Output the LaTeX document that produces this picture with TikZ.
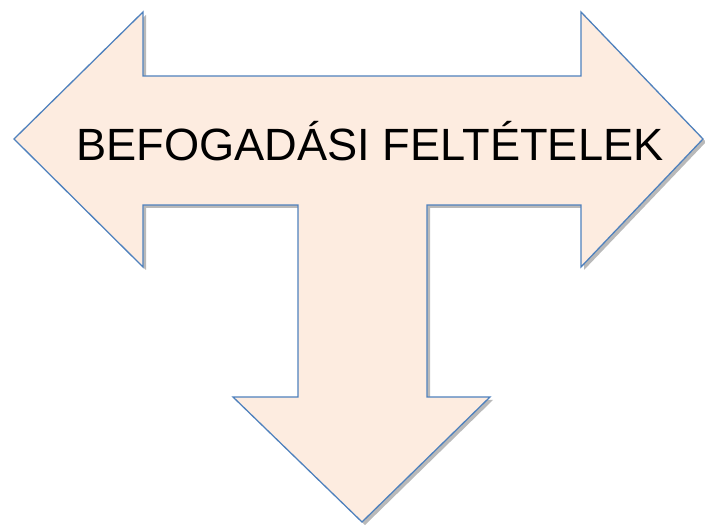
\documentclass[tikz,border=0pt]{standalone}
\usepackage{fontspec}
\setmainfont{Liberation Sans}
\usetikzlibrary{shadows}

\definecolor{peach}{RGB}{253,236,224}
\definecolor{edgeblue}{RGB}{79,129,189}

\begin{document}
\begin{tikzpicture}[
    x=1pt, y=-1pt,
    tarrow/.style={
        fill=peach, draw=edgeblue, line width=1.3pt, line join=miter,
        drop shadow={opacity=0.55, shadow xshift=3pt, shadow yshift=-3pt}},
    title/.style={font=\fontsize{45.2}{54}\selectfont, text=black, inner sep=0pt},
]
\useasboundingbox (0,0) rectangle (705,529);

% ---- three-way arrow ----
\draw[tarrow]
    (14,139) -- (143,12) -- (143,76) -- (581,76) -- (581,12) -- (703,139)
    -- (581,267) -- (581,205) -- (427,205) -- (427,397) -- (490,397)
    -- (362,522) -- (233,397) -- (298,397) -- (298,205) -- (143,205)
    -- (143,267) -- cycle;

% ---- label ----
\node[title] (label) at (370,141) {BEFOGADÁSI FELTÉTELEK};

\end{tikzpicture}
\end{document}
